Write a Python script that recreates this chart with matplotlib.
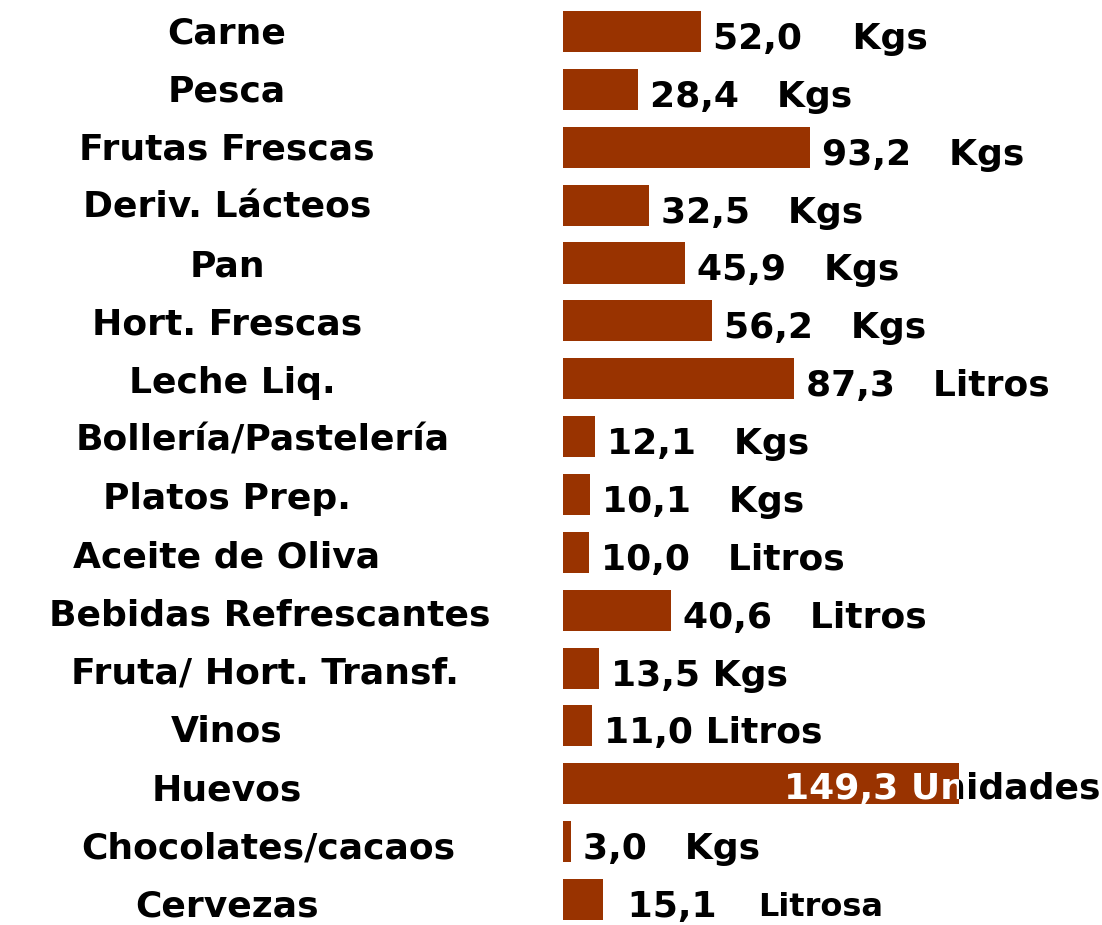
import matplotlib
matplotlib.use("Agg")
import matplotlib.pyplot as plt
import matplotlib.transforms as mtransforms

categories = [
    "Carne", "Pesca", "Frutas Frescas", "Deriv. Lácteos", "Pan",
    "Hort. Frescas", "Leche Liq.", "Bollería/Pastelería", "Platos Prep.",
    "Aceite de Oliva", "Bebidas Refrescantes", "Fruta/ Hort. Transf.",
    "Vinos", "Huevos", "Chocolates/cacaos", "Cervezas",
]
values = [52.0, 28.4, 93.2, 32.5, 45.9, 56.2, 87.3, 12.1, 10.1, 10.0,
          40.6, 13.5, 11.0, 149.3, 3.0, 15.1]
value_texts = [
    "52,0    Kgs", "28,4   Kgs", "93,2   Kgs", "32,5   Kgs", "45,9   Kgs",
    "56,2   Kgs", "87,3   Litros", "12,1   Kgs", "10,1   Kgs",
    "10,0   Litros", "40,6   Litros", "13,5 Kgs", "11,0 Litros",
    "149,3 Unidades", "3,0   Kgs", " 15,1",
]
# the last label has its unit written smaller
last_unit = "Litrosa"

# horizontal centre (px) of each category name; the long ones sit further right
label_x = {"Leche Liq.": 232, "Bollería/Pastelería": 263,
           "Bebidas Refrescantes": 270, "Fruta/ Hort. Transf.": 265,
           "Chocolates/cacaos": 268}

BAR_COLOR = "#993300"
FONT = "DejaVu Sans"
FS = 26
W, H = 1102, 925

fig = plt.figure(figsize=(W / 100, H / 100), dpi=100)
ax = fig.add_axes([563 / W, 0, 1 - 563 / W, 1])
ax.set_xlim(0, 203.4)
ax.set_ylim(len(categories) - 0.56, -0.544)
ax.axis("off")

pos = list(range(len(categories)))
bars = ax.barh(pos, values, height=0.71, color=BAR_COLOR)

# category names on the left
trans = mtransforms.blended_transform_factory(fig.transFigure, ax.transData)
for i, name in enumerate(categories):
    ax.text(label_x.get(name, 227) / W, i + 0.03 + i * 0.006, name,
            transform=trans, ha="center", va="center", fontsize=FS,
            fontweight="bold", family=FONT, clip_on=False)

# value labels right of the bars
ytrans = mtransforms.blended_transform_factory(ax.transAxes, ax.transData)
for i, (v, txt) in enumerate(zip(values, value_texts)):
    if txt.startswith("149,3"):
        # runs past the figure: right aligned, white over the bar, black beyond
        inside = mtransforms.TransformedBbox(
            mtransforms.Bbox([[0, i - 0.5], [v, i + 0.5]]), ax.transData)
        outside = mtransforms.TransformedBbox(
            mtransforms.Bbox([[v, i - 0.5], [210, i + 0.5]]), ax.transData)
        for col, box in (("black", outside), ("white", inside)):
            t = ax.text(0.997, i + 0.09, txt, transform=ytrans, ha="right",
                        va="center", fontsize=FS, fontweight="bold",
                        family=FONT, color=col)
            t.set_clip_path(None)
            t.set_clip_box(box)
            t.set_clip_on(True)
        continue
    t = ax.annotate(txt, (v, i + 0.13), xytext=(8.6, 0),
                    textcoords="offset points", ha="left", va="center",
                    fontsize=FS, fontweight="bold", family=FONT,
                    annotation_clip=False)
    if i == len(values) - 1:
        ax.annotate(last_unit, (1, 0.5), xycoords=t, xytext=(30, 0),
                    textcoords="offset points", ha="left", va="center",
                    fontsize=FS - 3, fontweight="bold", family=FONT,
                    annotation_clip=False)

fig.savefig("out.png", dpi=100, facecolor="white")
